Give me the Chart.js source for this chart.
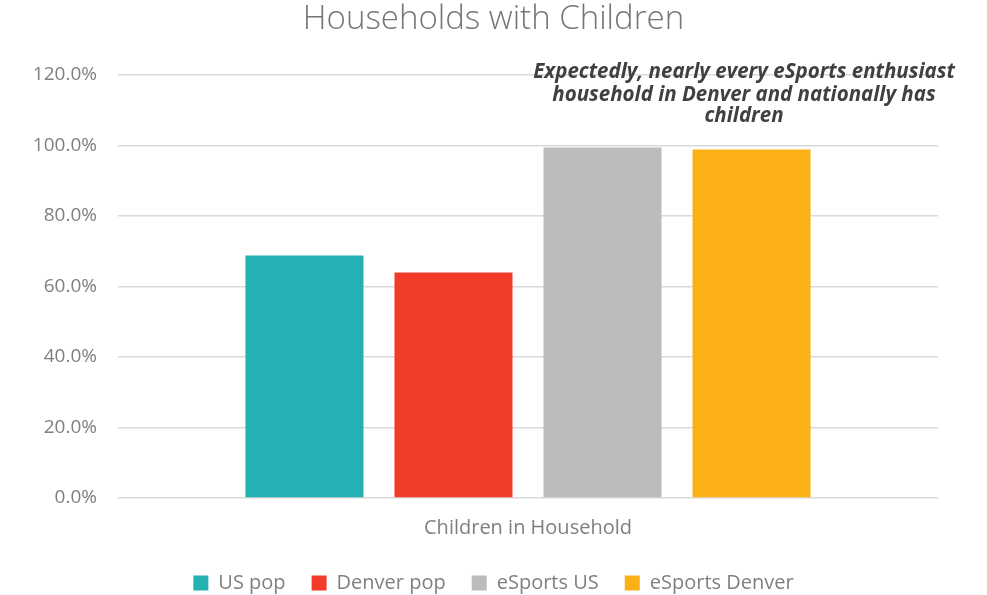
<!DOCTYPE html>
<html>
<head>
<meta charset="utf-8">
<script src="https://cdn.jsdelivr.net/npm/chart.js@4.4.1/dist/chart.umd.min.js"></script>
<style>
html,body{margin:0;padding:0;background:#fff;}
#wrap{width:987px;height:595px;}
</style>
</head>
<body>
<div id="wrap"><canvas id="c" width="987" height="595"></canvas></div>
<script>
const categories = ['Children in Household'];
const seriesNames = ['US pop', 'Denver pop', 'eSports US', 'eSports Denver'];
const seriesColors = ['#23B1B3', '#F03C28', '#BCBCBC', '#FBB116'];
const usPop = [68.8];
const denverPop = [64.0];
const esportsUS = [99.4];
const esportsDenver = [98.9];
const yTicks = [0, 20, 40, 60, 80, 100, 120];
const annotationLines = ['Expectedly, nearly every eSports enthusiast', 'household in Denver and nationally has', 'children'];

const seriesValues = [usPop, denverPop, esportsUS, esportsDenver];
const FONT = "'Open Sans', 'Noto Sans', sans-serif";

const annotationPlugin = {
  id: 'annot',
  afterDraw(chart) {
    const ctx = chart.ctx;
    ctx.save();
    ctx.font = "italic bold 20.5px " + FONT;
    ctx.fillStyle = '#404040';
    ctx.textAlign = 'center';
    ctx.textBaseline = 'middle';
    const cx = 744;
    const ys = [72, 95, 116];
    annotationLines.forEach((t, i) => ctx.fillText(t, cx, ys[i]));
    ctx.restore();
  }
};

new Chart(document.getElementById('c'), {
  type: 'bar',
  data: {
    labels: categories,
    datasets: seriesNames.map((n, i) => ({
      label: n,
      data: seriesValues[i],
      backgroundColor: seriesColors[i],
      borderWidth: 0,
      categoryPercentage: 0.727,
      barPercentage: 0.792
    }))
  },
  options: {
    responsive: false,
    animation: false,
    devicePixelRatio: 1,
    layout: { padding: { left: 0, right: 0, top: 0, bottom: -8 } },
    plugins: {
      title: {
        display: true,
        text: 'Households with Children',
        color: '#767676',
        font: { family: FONT, size: 33, weight: '300' },
        padding: { top: 0, bottom: 35.4 }
      },
      legend: {
        position: 'bottom',
        labels: {
          color: '#7f7f7f',
          font: { family: FONT, size: 20 },
          boxWidth: 15,
          boxHeight: 15,
          padding: 26
        }
      },
      tooltip: { enabled: false }
    },
    scales: {
      x: {
        grid: { display: false, drawTicks: false },
        border: { display: false },
        afterFit(scale) { scale.height = 49; },
        ticks: { color: '#7f7f7f', font: { family: FONT, size: 20 }, padding: 18 }
      },
      y: {
        min: 0,
        max: 120,
        afterBuildTicks(scale) { scale.ticks = yTicks.map(v => ({ value: v })); },
        afterFit(scale) { scale.width = 118; },
        grid: { color: '#d9d9d9', lineWidth: 1.5, drawTicks: false },
        border: { display: false },
        ticks: {
          color: '#7f7f7f',
          font: { family: FONT, size: 19 },
          padding: 21,
          callback: v => v.toFixed(1) + '%'
        }
      },
      yRight: {
        position: 'right',
        display: true,
        min: 0,
        max: 120,
        afterFit(scale) { scale.width = 49; },
        grid: { display: false, drawTicks: false },
        border: { display: false },
        ticks: { display: false }
      }
    }
  },
  plugins: [annotationPlugin]
});
</script>
</body>
</html>
